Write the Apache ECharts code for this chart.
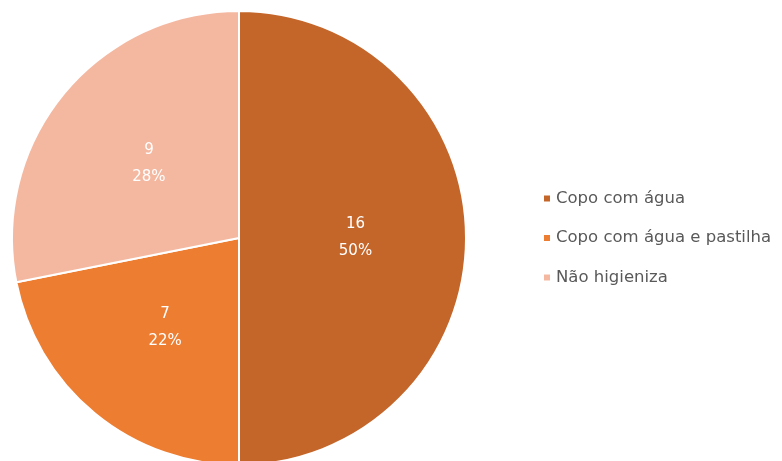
<!DOCTYPE html>
<html><head><meta charset="utf-8">
<script src="https://cdn.jsdelivr.net/npm/echarts@6/dist/echarts.min.js"></script>
<style>html,body{margin:0;padding:0;background:#fff}#c{width:782px;height:461px}</style>
</head><body><div id="c"></div>
<script>
const categories = ["Copo com água", "Copo com água e pastilha", "Não higieniza"];
const values = [16, 7, 9];
const colors = ["#C4662A", "#ED7D31", "#F4B8A1"];

const total = values.reduce((a, b) => a + b, 0);
const chart = echarts.init(document.getElementById('c'));
chart.setOption({
  animation: false,
  legend: {
    orient: 'vertical',
    left: 537,
    top: 185,
    itemWidth: 8,
    itemHeight: 8,
    itemGap: 22.5,
    icon: 'rect',
    textStyle: { fontFamily: 'DejaVu Sans', fontSize: 16.5, color: '#595959' },
    data: categories
  },
  series: [{
    type: 'pie',
    center: [239, 238],
    radius: [0, 227],
    startAngle: 90,
    clockwise: true,
    avoidLabelOverlap: false,
    itemStyle: { borderColor: '#fff', borderWidth: 2 },
    label: {
      show: true,
      position: 'inside',
      color: '#fff',
      fontFamily: 'DejaVu Sans',
      fontSize: 15,
      lineHeight: 27,
      formatter: p => p.value + '\n' + Math.round(p.value / total * 100) + '%'
    },
    labelLine: { show: false },
    data: categories.map((c, i) => ({ name: c, value: values[i], itemStyle: { color: colors[i] } }))
  }]
});
</script></body></html>
